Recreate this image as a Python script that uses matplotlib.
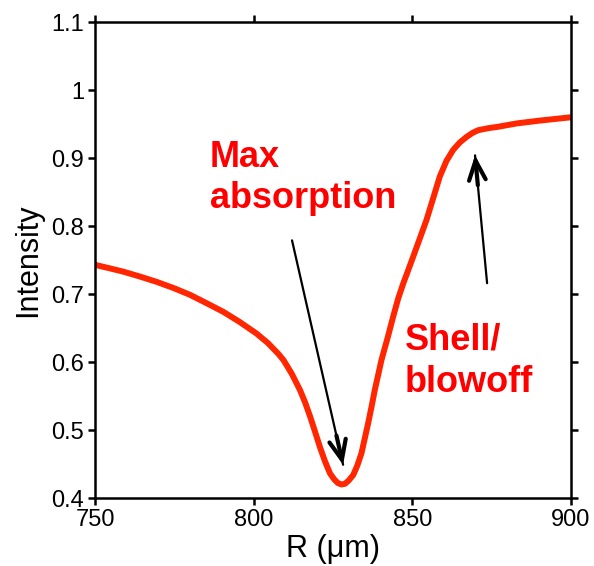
import numpy as np
import matplotlib.pyplot as plt

plt.rcParams['font.family'] = ['Liberation Sans', 'DejaVu Sans']

# curve
r_um = [750, 754.5, 758.9, 764, 769.4, 774.7, 779.9, 785, 790.4, 795.6,
        800.9, 804.5, 807.8, 809.4, 812, 814.6, 816.2, 817.8, 819.4, 820.9,
        822.5, 824.1, 825.5, 826.6, 827.7, 828.8, 830.0, 831.4, 832.7, 834.0,
        835.0, 836.1, 837.2, 838.2, 839.3, 840.3, 841.3, 842.2, 844.0, 845.6,
        847.2, 848.8, 850.3, 852.4, 854.5, 856.6, 858.7, 860.8, 862.9, 865.0,
        867.1, 869.0, 870.8, 874, 877, 883, 890, 900]
intensity = [0.743, 0.738, 0.733, 0.726, 0.718, 0.709, 0.699, 0.687, 0.674, 0.659,
             0.642, 0.628, 0.612, 0.603, 0.583, 0.559, 0.541, 0.520, 0.497, 0.475,
             0.454, 0.436, 0.427, 0.422, 0.420, 0.421, 0.426, 0.434, 0.448, 0.466,
             0.487, 0.510, 0.535, 0.559, 0.582, 0.603, 0.620, 0.635, 0.667, 0.694,
             0.716, 0.736, 0.755, 0.782, 0.809, 0.841, 0.873, 0.896, 0.912, 0.923,
             0.931, 0.937, 0.941, 0.944, 0.946, 0.951, 0.955, 0.960]

x_ticks = [750, 800, 850, 900]
y_ticks = [0.4, 0.5, 0.6, 0.7, 0.8, 0.9, 1.0, 1.1]
y_ticklabels = ['0.4', '0.5', '0.6', '0.7', '0.8', '0.9', '1', '1.1']

fig = plt.figure(figsize=(5.94, 5.66), dpi=100)
ax = fig.add_axes([0.160, 0.120, 0.801, 0.841])

ax.plot(r_um, intensity, color='#ff2600', lw=4.3,
        solid_capstyle='butt', solid_joinstyle='round')

ax.set_xlim(750, 900)
ax.set_ylim(0.4, 1.1)
ax.set_xticks(x_ticks)
ax.set_yticks(y_ticks)
ax.set_yticklabels(y_ticklabels)
ax.tick_params(direction='out', length=5, width=1.8, labelsize=17, pad=3,
               top=True, right=True, labeltop=False, labelright=False)
for s in ax.spines.values():
    s.set_linewidth(1.8)

ax.set_xlabel('R (μm)', fontsize=22, labelpad=2)
ax.set_ylabel('Intensity', fontsize=22, labelpad=6)

# annotations
red = '#ff0000'
ax.text(786.2, 0.887, 'Max', color=red, fontsize=26, fontweight='bold')
ax.text(786.2, 0.826, 'absorption', color=red, fontsize=26, fontweight='bold')
ax.text(847.7, 0.618, 'Shell/', color=red, fontsize=26, fontweight='bold')
ax.text(847.7, 0.556, 'blowoff', color=red, fontsize=26, fontweight='bold')


def arrow(tail, tip):
    # thin shaft, heavier open head
    ax.annotate('', xy=tip, xytext=tail,
                arrowprops=dict(arrowstyle='-', lw=1.6, color='black',
                                shrinkA=0, shrinkB=0))
    t0 = np.array(ax.transData.transform(tail))
    t1 = np.array(ax.transData.transform(tip))
    d = (t1 - t0) / np.hypot(*(t1 - t0))
    near = ax.transData.inverted().transform(t1 - 30 * d)
    ax.annotate('', xy=tip, xytext=near,
                arrowprops=dict(arrowstyle='->,head_length=1.4,head_width=0.6',
                                lw=3, color='black', shrinkA=0, shrinkB=0,
                                joinstyle='miter'))


arrow((812.1, 0.779), (828.2, 0.449))
arrow((873.6, 0.716), (869.8, 0.904))

plt.savefig('out.png', dpi=100)
